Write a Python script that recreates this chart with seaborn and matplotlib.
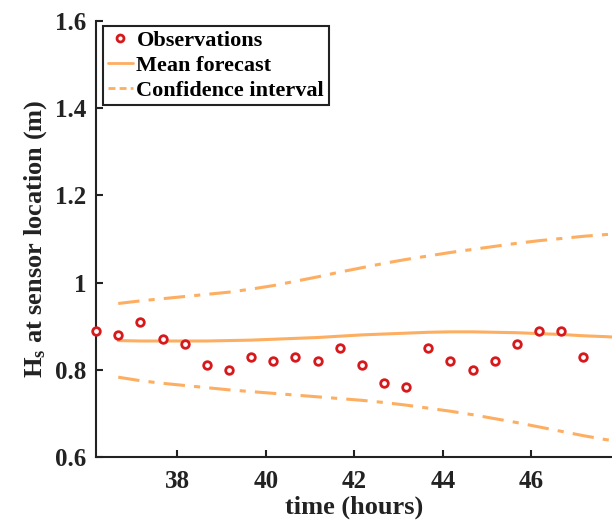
import matplotlib
matplotlib.use("Agg")
import matplotlib.pyplot as plt
import seaborn as sns
import numpy as np
import pandas as pd
from matplotlib.lines import Line2D

obs_time = [36.17, 36.67, 37.17, 37.67, 38.17, 38.67, 39.17, 39.67, 40.17, 40.67, 41.17, 41.67,
            42.17, 42.67, 43.17, 43.67, 44.17, 44.67, 45.17, 45.67, 46.17, 46.67, 47.17]
obs_hs = [0.89, 0.88, 0.91, 0.87, 0.86, 0.81, 0.80, 0.83, 0.82, 0.83, 0.82, 0.85,
          0.81, 0.77, 0.76, 0.85, 0.82, 0.80, 0.82, 0.86, 0.89, 0.89, 0.83]

fc_time = [36.67, 37.17, 37.67, 38.17, 38.67, 39.17, 39.67, 40.17, 40.67, 41.17, 41.67, 42.17,
           42.67, 43.17, 43.67, 44.17, 44.67, 45.17, 45.67, 46.17, 46.67, 47.17, 47.67, 47.85]
fc_mean = [0.867, 0.866, 0.866, 0.866, 0.866, 0.867, 0.868, 0.870, 0.872, 0.874, 0.877, 0.880,
           0.882, 0.884, 0.886, 0.887, 0.887, 0.886, 0.885, 0.883, 0.881, 0.878, 0.876, 0.875]
fc_upper = [0.952, 0.958, 0.963, 0.968, 0.973, 0.978, 0.985, 0.993, 1.003, 1.013, 1.024, 1.034,
            1.044, 1.053, 1.061, 1.069, 1.076, 1.083, 1.090, 1.096, 1.101, 1.106, 1.110, 1.111]
fc_lower = [0.783, 0.775, 0.769, 0.764, 0.759, 0.754, 0.750, 0.746, 0.742, 0.738, 0.734, 0.730,
            0.725, 0.719, 0.712, 0.705, 0.697, 0.688, 0.679, 0.669, 0.659, 0.649, 0.640, 0.638]

x_ticks = [38, 40, 42, 44, 46]
y_ticks = [0.6, 0.8, 1.0, 1.2, 1.4, 1.6]
y_ticklabels = ["0.6", "0.8", "1", "1.2", "1.4", "1.6"]

sns.set_theme(style="white")
plt.rcParams['font.family'] = ['Liberation Serif', 'DejaVu Serif']
plt.rcParams['font.weight'] = 'bold'
plt.rcParams['mathtext.fontset'] = 'custom'
plt.rcParams['mathtext.rm'] = 'Liberation Serif:bold'
plt.rcParams['mathtext.it'] = 'Liberation Serif:bold'

red = "#D7191C"
orange = "#FDAE61"
ink = "#222222"

fig = plt.figure(figsize=(6.12, 5.22), dpi=100)
ax = fig.add_axes([0.157, 0.1245, 0.843, 0.8355])

obs = pd.DataFrame({"t": obs_time, "hs": obs_hs})
fc = pd.DataFrame({"t": fc_time, "mean": fc_mean, "up": fc_upper, "lo": fc_lower})

dd = (0, (7, 3, 2, 3))
sns.lineplot(data=fc, x="t", y="up", ax=ax, color=orange, lw=2.2, linestyle=dd)
sns.lineplot(data=fc, x="t", y="lo", ax=ax, color=orange, lw=2.2, linestyle=dd)
sns.lineplot(data=fc, x="t", y="mean", ax=ax, color=orange, lw=2.2)
sns.scatterplot(data=obs, x="t", y="hs", ax=ax, marker="o", s=30, facecolor="white",
                edgecolor=red, linewidth=2, zorder=5, clip_on=False)

ax.set_xlim(36.17, 47.82)
ax.set_ylim(0.6, 1.6)
ax.set_xticks(x_ticks)
ax.set_xticklabels([str(v) for v in x_ticks])
ax.set_yticks(y_ticks)
ax.set_yticklabels(y_ticklabels)
ax.tick_params(direction="in", length=5, width=1.5, labelsize=18, colors=ink,
               left=True, bottom=True, pad=7)
ax.tick_params(axis="x", pad=9)
for lab in ax.get_xticklabels() + ax.get_yticklabels():
    lab.set_fontweight("bold")
for s in ["top", "right"]:
    ax.spines[s].set_visible(False)
for s in ["left", "bottom"]:
    ax.spines[s].set_color(ink)
    ax.spines[s].set_linewidth(1.5)

ax.set_xlabel("time (hours)", fontsize=19, fontweight="bold", labelpad=2, color=ink)
ax.set_ylabel(r"H$_\mathregular{s}$ at sensor location (m)", fontsize=19, fontweight="bold",
              labelpad=4, color=ink)

handles = [
    Line2D([], [], marker="o", linestyle="none", markerfacecolor="white", markeredgecolor=red,
           markeredgewidth=2, markersize=5),
    Line2D([], [], color=orange, lw=2),
    Line2D([], [], color=orange, lw=2, linestyle=(0, (2.5, 1.5))),
]
leg = ax.legend(handles, ["Observations", "Mean forecast", "Confidence interval"],
                loc="upper left", bbox_to_anchor=(0.0136, 0.989), fancybox=False, framealpha=1,
                edgecolor=ink, prop={"weight": "bold", "size": 16}, handlelength=1.15,
                handletextpad=0.15, borderpad=0.2, labelspacing=0.2, borderaxespad=0.0)
leg.get_frame().set_linewidth(1.5)
for t in leg.get_texts():
    t.set_color("black")

fig.savefig("out.png", dpi=100)
